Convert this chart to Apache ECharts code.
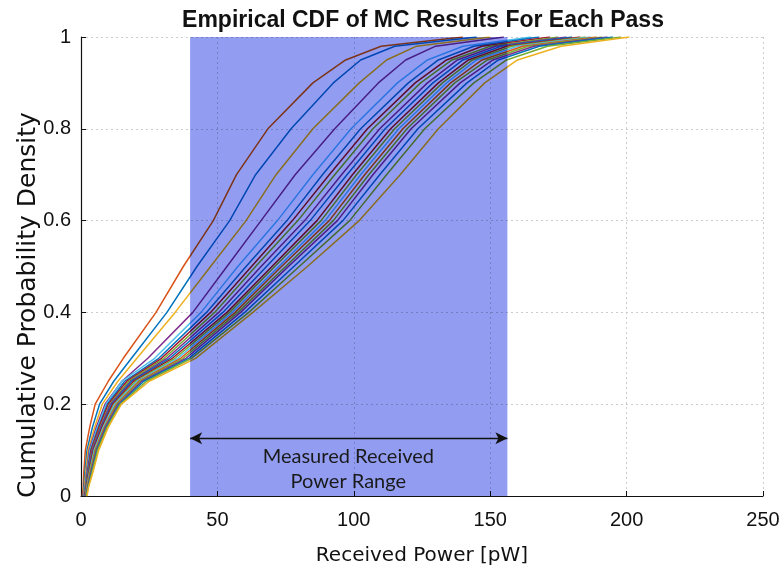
<!DOCTYPE html>
<html>
<head>
<meta charset="utf-8">
<script src="https://cdn.jsdelivr.net/npm/echarts@6/dist/echarts.min.js"></script>
<style>
html,body{margin:0;padding:0;background:#fff;}
#chart{width:783px;height:571px;}
</style>
</head>
<body>
<div id="chart"></div>
<script>
// Probability levels (y) at which each pass's received power (x, pW) was read
const levels = [0, 0.02, 0.05, 0.1, 0.15, 0.2, 0.25, 0.3, 0.4, 0.5, 0.6, 0.7, 0.8, 0.9, 0.95, 0.98, 1];

const pass01 = [0.5, 0.8, 1.0, 1.6, 3.2, 5.2, 10, 15.5, 27.5, 37.5, 48.5, 57, 68.5, 85, 97, 110, 140];
const pass02 = [0.8, 1.1, 1.4, 2.2, 4.2, 6.8, 12, 18.5, 31.5, 42.5, 54.5, 64, 77, 92.5, 102.5, 115, 145];
const pass03 = [1.0, 1.3, 1.7, 2.6, 5.0, 7.8, 13.5, 20.5, 34.5, 47.5, 60.5, 71.5, 85, 102, 112, 123, 150];
const pass04 = [1.1, 1.5, 2.0, 3.0, 5.6, 8.8, 15, 24.5, 41, 53.5, 66, 78.5, 93, 109, 119, 130, 155];
const pass05 = [1.2, 1.6, 2.2, 3.3, 6.0, 9.2, 15, 27, 44, 57.5, 72, 85, 99, 116, 127, 140, 165];
const pass06 = [1.3, 1.7, 2.3, 3.6, 6.4, 9.7, 16, 28.5, 46, 60.5, 75.5, 88.5, 102.5, 120, 131, 144, 168];
const pass07 = [1.3, 1.8, 2.4, 3.7, 6.6, 10.0, 16.8, 29.5, 47.5, 62.5, 77.5, 91, 105, 122.5, 134, 147, 172];
const pass08 = [1.4, 1.8, 2.5, 4.0, 7.0, 10.5, 17.5, 30.5, 49, 64, 79.5, 93, 107, 124.5, 136, 150, 175];
const pass09 = [1.4, 1.9, 2.6, 4.1, 7.2, 10.8, 18.2, 31.5, 50.5, 66, 82, 95.5, 109.5, 127, 138, 152, 178];
const pass10 = [1.5, 2.0, 2.8, 4.4, 7.5, 11.3, 18.6, 32.5, 52, 68, 84, 97.5, 111.5, 129, 140, 154, 180];
const pass11 = [1.5, 2.0, 2.9, 4.5, 7.7, 11.6, 19.3, 33.5, 53.5, 70, 86.5, 99.5, 113.5, 131, 142, 156, 183];
const pass12 = [1.6, 2.1, 3.0, 4.8, 8.1, 12.1, 20, 34.5, 54.5, 71, 88, 101, 115, 132.5, 143.5, 158, 185];
const pass13 = [1.6, 2.2, 3.2, 4.9, 8.2, 12.4, 20.6, 35.5, 55.5, 72.5, 89.5, 102.5, 116.5, 134, 145, 160, 187];
const pass14 = [1.7, 2.3, 3.3, 5.2, 8.6, 12.9, 21.2, 36.5, 56.5, 73.5, 91, 104, 118, 135.5, 147, 162, 189];
const pass15 = [1.8, 2.4, 3.5, 5.3, 8.8, 13.2, 21.7, 37.5, 57.5, 75, 92.5, 105.5, 119.5, 137, 149, 164, 191];
const pass16 = [1.8, 2.5, 3.6, 5.6, 9.0, 13.6, 22.3, 38.5, 58.5, 76, 94, 107, 121, 139, 151, 166, 193];
const pass17 = [1.9, 2.6, 3.8, 5.9, 9.4, 14.1, 23, 39.5, 60, 78, 96, 109.5, 123.5, 141.5, 153, 168, 195];
const pass18 = [2.0, 2.7, 4.0, 6.1, 9.6, 14.4, 24, 40.5, 61.5, 80, 98.5, 112, 126, 144, 156, 171, 198];
const pass19 = [2.2, 2.8, 4.3, 6.5, 10.0, 14.8, 25, 42, 63, 83, 102, 117, 131, 148, 160, 176, 201];

const passes = [pass01, pass02, pass03, pass04, pass05, pass06, pass07, pass08, pass09, pass10,
                pass11, pass12, pass13, pass14, pass15, pass16, pass17, pass18, pass19];

// Measured received power range [pW]
const measuredRange = [40, 156.3];
const arrowLevel = 0.126;
const rangeLabelAt = [98, 0.059];

const palette = ['#D95319', '#0072BD', '#EDB120', '#7E2F8E',
                 '#4DBEEE', '#0072BD', '#A2142F', '#77AC30', '#7E2F8E', '#0072BD',
                 '#A2142F', '#77AC30', '#4DBEEE', '#D95319', '#77AC30', '#7E2F8E',
                 '#0072BD', '#77AC30', '#EDB120'];

const chart = echarts.init(document.getElementById('chart'), null, {renderer: 'canvas'});

const lineSeries = passes.map((xs, i) => ({
  type: 'line',
  name: 'Pass ' + (i + 1),
  data: xs.map((x, k) => [x, levels[k]]),
  showSymbol: false,
  smooth: false,
  lineStyle: {width: 1.5, color: palette[i % palette.length]},
  z: 2,
  silent: true
}));

const axisFont = {fontFamily: 'Liberation Sans, Arial, sans-serif', fontSize: 20, color: '#111'};

const option = {
  animation: false,
  backgroundColor: '#fff',
  grid: {left: 81, right: 20, top: 37, bottom: 70, containLabel: false},
  xAxis: {
    type: 'value', min: 0, max: 250, interval: 50,
    name: 'Received Power [pW]', nameLocation: 'middle', nameGap: 50,
    nameTextStyle: {fontFamily: 'DejaVu Sans, sans-serif', fontSize: 20, color: '#111'},
    axisLine: {show: true, lineStyle: {color: '#111', width: 1.2}},
    axisTick: {show: true, inside: true, length: 5, lineStyle: {color: '#111'}},
    axisLabel: Object.assign({margin: 14, formatter: v => String(v)}, axisFont),
    splitLine: {show: true, lineStyle: {color: '#cccccc', width: 1, type: [2, 3]}}
  },
  yAxis: {
    type: 'value', min: 0, max: 1, interval: 0.2,
    axisLine: {show: true, lineStyle: {color: '#111', width: 1.2}},
    axisTick: {show: true, inside: true, length: 5, lineStyle: {color: '#111'}},
    axisLabel: Object.assign({margin: 10, formatter: v => String(Math.round(v * 10) / 10)}, axisFont),
    splitLine: {show: true, lineStyle: {color: '#cccccc', width: 1, type: [2, 3]}}
  },
  graphic: [
    {type: 'text', x: 423, y: 21, z: 100,
     style: {text: 'Empirical CDF of MC Results For Each Pass', align: 'center', verticalAlign: 'middle',
             fontFamily: 'Liberation Sans Narrow, Arial Narrow, Liberation Sans, sans-serif', fontWeight: 'bold', fontSize: 23, fill: '#111'}},
    {type: 'text', x: 28, y: 305, rotation: Math.PI / 2, z: 100,
     style: {text: 'Cumulative Probability Density', align: 'center', verticalAlign: 'middle',
             fontFamily: 'DejaVu Sans, sans-serif', fontSize: 25, fill: '#111'}}
  ],
  series: lineSeries.concat([
    {
      type: 'line',
      name: 'annot',
      data: [],
      z: 10,
      silent: true,
      markLine: {
        silent: true,
        z: 12,
        symbol: ['arrow', 'arrow'],
        symbolSize: [9, 12],
        label: {show: false},
        lineStyle: {color: '#111', width: 1.4, type: 'solid'},
        data: [[{coord: [measuredRange[0], arrowLevel]}, {coord: [measuredRange[1], arrowLevel]}]]
      },
      markPoint: {
        silent: true,
        z: 12,
        symbol: 'circle',
        symbolSize: 1,
        itemStyle: {color: 'rgba(0,0,0,0)'},
        label: {
          show: true, position: 'inside',
          formatter: 'Measured Received\nPower Range',
          fontFamily: 'Lato, Open Sans, sans-serif', fontSize: 20, lineHeight: 25,
          color: '#1a1a1a', align: 'center'
        },
        data: [{coord: rangeLabelAt}]
      }
    }
  ])
};

chart.setOption(option);

// Shaded "measured range" band, placed through the chart's own scales and
// multiplied over the curves like a translucent highlighter.
const pTop = chart.convertToPixel({gridIndex: 0}, [measuredRange[0], 1]);
const pBot = chart.convertToPixel({gridIndex: 0}, [measuredRange[1], 0]);
const band = new echarts.graphic.Rect({
  shape: {x: pTop[0], y: pTop[1], width: pBot[0] - pTop[0], height: pBot[1] - pTop[1]},
  style: {fill: '#929df2', blend: 'multiply'},
  z: 5,
  silent: true
});
chart.getZr().add(band);
</script>
</body>
</html>
